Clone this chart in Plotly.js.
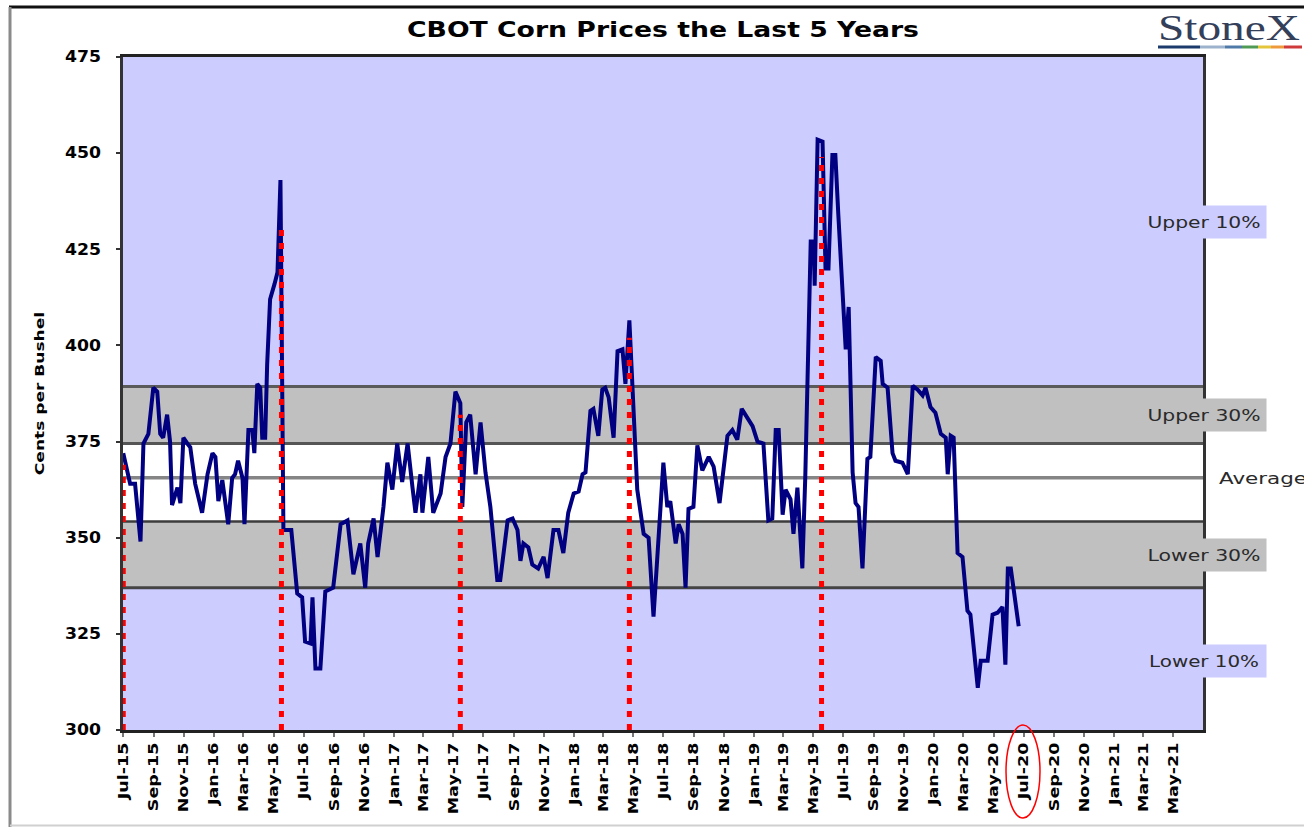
<!DOCTYPE html>
<html>
<head>
<meta charset="utf-8">
<script src="https://cdn.plot.ly/plotly-3.0.1.min.js"></script>
<style>
  html, body { margin: 0; padding: 0; background: #ffffff; }
  #chart { width: 1304px; height: 827px; }
</style>
</head>
<body>
<div id="chart"></div>
<script>
// ---------------- DATA ----------------
const chartTitle = 'CBOT Corn Prices the Last 5 Years';
const yAxisTitle = 'Cents per Bushel';
const logoText = 'StoneX';

const priceDates = [
  '2015-07-01','2015-07-15','2015-07-25','2015-08-05','2015-08-11','2015-08-21','2015-08-31','2015-09-08','2015-09-14','2015-09-20','2015-09-28',
  '2015-10-04','2015-10-08','2015-10-19','2015-10-25','2015-10-31','2015-11-08','2015-11-14','2015-11-24','2015-12-08','2015-12-19','2015-12-29',
  '2016-01-04','2016-01-10','2016-01-18','2016-01-24','2016-01-30','2016-02-07','2016-02-13','2016-02-19','2016-02-28','2016-03-03','2016-03-11',
  '2016-03-19','2016-03-23','2016-03-29','2016-04-04','2016-04-08','2016-04-14','2016-04-18','2016-04-24','2016-05-03','2016-05-09','2016-05-15',
  '2016-05-21','2016-06-06','2016-06-18','2016-06-28','2016-07-04','2016-07-15','2016-07-19','2016-07-25','2016-08-04','2016-08-14','2016-08-30',
  '2016-09-14','2016-09-28','2016-10-10','2016-10-24','2016-11-03','2016-11-09','2016-11-20','2016-11-28','2016-12-10','2016-12-18','2016-12-28',
  '2017-01-07','2017-01-17','2017-01-28','2017-02-07','2017-02-13','2017-02-23','2017-02-27','2017-03-11','2017-03-21','2017-04-05','2017-04-15',
  '2017-04-25','2017-05-05','2017-05-15','2017-05-19','2017-05-27','2017-06-04','2017-06-15','2017-06-25','2017-07-05','2017-07-15','2017-07-29',
  '2017-08-04','2017-08-19','2017-08-29','2017-09-08','2017-09-14','2017-09-20','2017-09-30','2017-10-08','2017-10-20','2017-10-31','2017-11-08',
  '2017-11-20','2017-11-30','2017-12-10','2017-12-20','2017-12-31',
  '2018-01-10','2018-01-18','2018-01-24','2018-02-03','2018-02-09','2018-02-19','2018-02-27','2018-03-05','2018-03-12','2018-03-22','2018-03-30',
  '2018-04-09','2018-04-15','2018-04-23','2018-05-01','2018-05-09','2018-05-22','2018-06-01','2018-06-11','2018-06-21','2018-07-01','2018-07-09',
  '2018-07-15','2018-07-26','2018-08-01','2018-08-09','2018-08-15','2018-08-21','2018-08-31','2018-09-08','2018-09-18','2018-10-01','2018-10-11',
  '2018-10-23','2018-10-31','2018-11-08','2018-11-18','2018-11-28','2018-12-07','2018-12-19','2018-12-29',
  '2019-01-08','2019-01-20','2019-01-30','2019-02-07','2019-02-14','2019-02-20','2019-02-28','2019-03-06','2019-03-16','2019-03-22','2019-03-30',
  '2019-04-09','2019-04-15','2019-04-20','2019-04-26','2019-05-02','2019-05-04','2019-05-10','2019-05-20','2019-05-26','2019-06-01','2019-06-09',
  '2019-06-15','2019-06-21','2019-07-02','2019-07-06','2019-07-12','2019-07-20','2019-07-26','2019-08-01','2019-08-09','2019-08-19','2019-08-25',
  '2019-09-05','2019-09-15','2019-09-19','2019-09-29','2019-10-09','2019-10-15','2019-10-29','2019-11-09','2019-11-19','2019-11-29','2019-12-09',
  '2019-12-15','2019-12-25',
  '2020-01-04','2020-01-15','2020-01-25','2020-01-29','2020-02-04','2020-02-10','2020-02-18','2020-02-28','2020-03-09','2020-03-15','2020-03-30',
  '2020-04-05','2020-04-19','2020-04-29','2020-05-09','2020-05-19','2020-05-25','2020-05-30','2020-06-05','2020-06-11','2020-06-21'
];

const priceValues = [
  372, 364, 364, 349, 374.5, 377, 389, 388, 377, 376, 382,
  375, 358.5, 363, 359, 376, 374.5, 373.5, 364, 356.5, 366.5, 372,
  371, 359.5, 365, 359, 353.5, 365.5, 366.5, 370, 365.5, 353.5, 378,
  378, 372, 390, 389, 376, 376, 395, 412, 416, 419, 443,
  352, 352, 335.5, 334.5, 323, 322.5, 334.5, 316, 316, 336, 337,
  353.5, 354.5, 340.5, 348.5, 337, 348.5, 355, 345, 358, 369.5, 362.5,
  374.5, 364.5, 374.5, 363, 356.5, 366.5, 356.5, 371, 356.5, 361.5, 371,
  374.5, 388, 385, 358, 380, 382, 366.5, 380, 367, 358, 339,
  339, 354.5, 355, 352, 344, 348.5, 347.5, 343, 342, 345, 339.5,
  352, 352, 346, 356.5, 361.5,
  362, 366.5, 367, 383, 383.5, 376.5, 388.5, 389, 386.5, 376, 398.5,
  399, 390, 406.5, 383, 362.5, 351, 350, 329.5, 351, 369.5, 358,
  359.5, 348.5, 353.5, 351, 337, 357.5, 358, 374, 367.5, 371, 368.5,
  359, 367, 376.5, 378, 375.5, 383.5, 381, 379,
  375, 374.5, 354.5, 355, 378, 378, 356, 362.5, 360, 351, 363,
  342, 366, 389.5, 427, 427, 415.5, 453.5, 453, 420, 420, 449.5,
  449.5, 434, 410, 399, 410, 367, 359, 358, 342, 370.5, 371,
  397, 396, 390, 389, 372, 370, 369.5, 366.5, 389.5, 388.5, 387,
  389, 384,
  382.5, 377, 376, 366.5, 376.5, 376, 346, 345, 331, 330, 311,
  318, 318, 330, 330.5, 332, 317, 342, 342, 337, 327
];

// red dotted reference markers (date, price reached)
const markerDates = ['2015-07-01', '2016-05-17', '2017-05-15', '2018-04-23', '2019-05-18'];
const markerTops  = [369, 431, 382, 402, 449];

// percentile bands (cents per bushel)
const bandNames  = ['Upper 10%', 'Upper 30%', 'Average', 'Lower 30%', 'Lower 10%'];
const bandLevels = [389.3, 374.5, 365.6, 354.2, 337.0];   // upper30 top, upper30 bottom, average, lower30 top, lower30 bottom
const bandLabelValues = [432, 381.8, 365.4, 345.5, 318];

const yRange = [300, 475];
const xRange = ['2015-06-30 12:00', '2021-06-30'];

// ---------------- LAYOUT HELPERS ----------------
const W = 1304, H = 827;
const M = { l: 123, r: 101, t: 57, b: 97 };
const px2x = p => (p - M.l) / (W - M.l - M.r);
const py2y = p => (H - M.b - p) / (H - M.t - M.b);

const FONT = 'DejaVu Sans, Liberation Sans, Arial, sans-serif';

// ---------------- TRACES ----------------
const traces = [];
traces.push({
  type: 'scatter', mode: 'lines', x: priceDates, y: priceValues,
  line: { color: '#000080', width: 4 }, hoverinfo: 'x+y', name: 'Corn'
});
markerDates.forEach((d, i) => {
  traces.push({
    type: 'scatter', mode: 'lines', x: [d, d], y: [yRange[0], markerTops[i]],
    line: { color: '#FF0000', width: 5, dash: '6px,7px' }, hoverinfo: 'skip', name: 'm' + i
  });
});

// ---------------- SHAPES ----------------
const shapes = [
  { type: 'rect', xref: 'paper', x0: 0, x1: 1, yref: 'y', y0: bandLevels[1], y1: bandLevels[0], fillcolor: '#C0C0C0', line: { width: 0 }, layer: 'below' },
  { type: 'rect', xref: 'paper', x0: 0, x1: 1, yref: 'y', y0: bandLevels[3], y1: bandLevels[1], fillcolor: '#FFFFFF', line: { width: 0 }, layer: 'below' },
  { type: 'rect', xref: 'paper', x0: 0, x1: 1, yref: 'y', y0: bandLevels[4], y1: bandLevels[3], fillcolor: '#C0C0C0', line: { width: 0 }, layer: 'below' }
];
const bandLineStyle = [
  { color: '#5a5a5a', width: 3 }, { color: '#555555', width: 3 }, { color: '#858585', width: 3.5 },
  { color: '#3c3c3c', width: 2.5 }, { color: '#444444', width: 3 }
];
bandLevels.forEach((lv, i) => {
  shapes.push({ type: 'line', xref: 'paper', x0: 0, x1: 1, yref: 'y', y0: lv, y1: lv, line: bandLineStyle[i], layer: 'below' });
});
// outer frame of the picture
shapes.push({ type: 'line', xref: 'paper', yref: 'paper', x0: px2x(9), x1: px2x(1310), y0: py2y(7), y1: py2y(7), line: { color: '#111111', width: 3 } });
shapes.push({ type: 'line', xref: 'paper', yref: 'paper', x0: px2x(10), x1: px2x(10), y0: py2y(7), y1: py2y(830), line: { color: '#8a8a8a', width: 3 } });
shapes.push({ type: 'line', xref: 'paper', yref: 'paper', x0: px2x(10), x1: px2x(1310), y0: py2y(825.5), y1: py2y(825.5), line: { color: '#d0d0d0', width: 2 } });
// logo colour bar
const logoBar = [[1158, 1200, '#1d3a6d'], [1200, 1225, '#9db2cc'], [1225, 1242, '#4f7aa8'], [1242, 1258, '#4f9a55'],
                 [1258, 1271, '#e3c63c'], [1271, 1284, '#ee9a3c'], [1284, 1302, '#cf3a3a']];
logoBar.forEach(s => {
  shapes.push({ type: 'rect', xref: 'paper', yref: 'paper', x0: px2x(s[0]), x1: px2x(s[1]), y0: py2y(48.5), y1: py2y(45.5), fillcolor: s[2], line: { width: 0 } });
});
// red ellipse around the Jul-20 label
shapes.push({ type: 'circle', xref: 'paper', yref: 'paper', x0: px2x(1006), x1: px2x(1040), y0: py2y(725), y1: py2y(818), line: { color: '#FF0000', width: 1.5 } });

// ---------------- ANNOTATIONS ----------------
const labelBg = ['#CCCCFF', '#C0C0C0', null, '#C0C0C0', '#CCCCFF'];
const annotations = [];
bandNames.forEach((nm, i) => {
  if (labelBg[i]) {
    annotations.push({
      xref: 'paper', x: px2x(1204), yref: 'y', y: bandLabelValues[i], text: nm, showarrow: false,
      xanchor: 'center', yanchor: 'middle', width: 122, height: 30, align: 'center',
      bgcolor: labelBg[i], font: { family: FONT, size: 16, color: '#2a2a2a' }
    });
  } else {
    annotations.push({
      xref: 'paper', x: px2x(1217), yref: 'y', y: bandLabelValues[i], text: nm, showarrow: false,
      xanchor: 'left', yanchor: 'middle', width: 88, align: 'center',
      font: { family: FONT, size: 16, color: '#2a2a2a' }
    });
  }
});
annotations.push({
  xref: 'paper', x: px2x(1229), yref: 'paper', y: py2y(28), text: logoText, showarrow: false,
  xanchor: 'center', yanchor: 'middle', width: 142, align: 'center',
  font: { family: 'Liberation Serif, Times New Roman, serif', size: 36, color: '#34405a' }
});

// ---------------- LAYOUT ----------------
const layout = {
  width: W, height: H,
  margin: M,
  paper_bgcolor: '#FFFFFF',
  plot_bgcolor: '#CCCCFF',
  showlegend: false,
  title: {
    text: chartTitle, x: 0.5, xref: 'paper', xanchor: 'center', y: 1 - 30 / H, yref: 'container', yanchor: 'middle',
    font: { family: FONT, size: 21, weight: 'bold', color: '#000000' }
  },
  xaxis: {
    type: 'date', range: xRange, tick0: '2015-07-01', dtick: 'M2', tickformat: '%b-%y',
    tickangle: -90, ticks: 'outside', ticklen: 4, tickwidth: 2, tickcolor: '#777777',
    tickfont: { family: FONT, size: 14, weight: 'bold', color: '#000000' },
    showgrid: false, zeroline: false, showline: true, linecolor: '#222222', linewidth: 3, mirror: true
  },
  yaxis: {
    range: yRange, tick0: 300, dtick: 25, ticks: 'outside', ticklen: 4, tickwidth: 2, tickcolor: '#333333',
    ticklabelstandoff: 12,
    tickfont: { family: FONT, size: 15, weight: 'bold', color: '#000000' },
    showgrid: false, zeroline: false, showline: true, linecolor: '#333333', linewidth: 3, mirror: true,
    title: { text: yAxisTitle, standoff: 23, font: { family: FONT, size: 12, weight: 'bold', color: '#000000' } }
  },
  shapes: shapes,
  annotations: annotations
};

function stretchTo(el, target) {
  el.setAttribute('textLength', target.toFixed(1));
  el.setAttribute('lengthAdjust', 'spacingAndGlyphs');
}
function stretchBy(el, f) {
  const len = el.getComputedTextLength();
  if (len > 0) stretchTo(el, len * f);
}

Plotly.newPlot('chart', traces, layout, { staticPlot: true, displayModeBar: false }).then(() => {
  const root = document.getElementById('chart');
  const t = root.querySelector('.gtitle'); if (t) stretchTo(t, 512);
  root.querySelectorAll('.xtick text').forEach(e => stretchBy(e, 1.25));
  root.querySelectorAll('.ytick text').forEach(e => stretchBy(e, 1.15));
  const yt = root.querySelector('.ytitle'); if (yt) stretchBy(yt, 1.42);
  const targets = [113, 113, 88, 113, 110, 142];
  root.querySelectorAll('.annotation-text').forEach((e, i) => { if (targets[i]) stretchTo(e, targets[i]); });
});
</script>
</body>
</html>
